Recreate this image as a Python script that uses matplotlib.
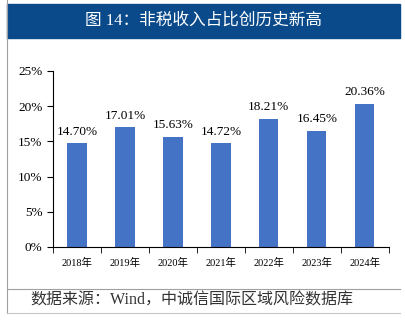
import matplotlib.pyplot as plt
from matplotlib.lines import Line2D
from matplotlib.patches import Rectangle
from matplotlib.ticker import FuncFormatter

plt.rcParams['font.family'] = ['Liberation Serif', 'Noto Sans CJK SC']

# Data
years = ['2018年', '2019年', '2020年', '2021年', '2022年', '2023年', '2024年']
share = [14.70, 17.01, 15.63, 14.72, 18.21, 16.45, 20.36]
y_ticks = [0, 5, 10, 15, 20, 25]

fig = plt.figure(figsize=(4.05, 3.27), dpi=100)
ax = fig.add_axes([0.131, 0.245, 0.829, 0.538])

x = range(len(years))
ax.bar(x, share, width=0.4, color='#4472C4')
for xi, v in zip(x, share):
    ax.text(xi, v + 0.8, f'{v:.2f}%', ha='center', va='bottom', fontsize=9.5)

ax.set_xlim(-0.5, len(years) - 0.5)
ax.set_ylim(0, 25)
ax.set_yticks(y_ticks)
ax.yaxis.set_major_formatter(FuncFormatter(lambda v, p: f'{v:.0f}%'))
ax.set_xticks(list(x))
ax.set_xticklabels(years, fontsize=7.5)
ax.tick_params(axis='x', length=0, pad=8)
ax.set_xticks([i + 0.5 for i in range(-1, len(years))], minor=True)
ax.tick_params(axis='x', which='minor', length=4, direction='out')
ax.tick_params(axis='y', labelsize=9.5, length=4)
ax.spines['top'].set_visible(False)
ax.spines['right'].set_visible(False)
for s in ['left', 'bottom']:
    ax.spines[s].set_linewidth(0.8)

# Title band
fig.patches.append(Rectangle((7 / 405, 1 - 38 / 327), 393 / 405, 34 / 327,
                             transform=fig.transFigure, color='#0A4A8A', zorder=0))
fig.text(204 / 405, 1 - 21 / 327, '图 14：非税收入占比创历史新高', color='white',
         ha='center', va='center', fontsize=12)

# Frame lines
fig.lines.append(Line2D([7 / 405, 7 / 405], [1 - 313 / 327, 1], transform=fig.transFigure,
                        color='#A0A0A0', lw=0.8))
fig.lines.append(Line2D([7 / 405, 400 / 405], [1 - 289 / 327] * 2, transform=fig.transFigure,
                        color='#A0A0A0', lw=0.8))
fig.lines.append(Line2D([7 / 405, 400 / 405], [1 - 313 / 327] * 2, transform=fig.transFigure,
                        color='#C8C8C8', lw=0.8))

fig.text(30 / 405, 1 - 301 / 327, '数据来源：Wind，中诚信国际区域风险数据库',
         ha='left', va='center', fontsize=11.5, color='#333333')

fig.savefig('out.png', dpi=100)
